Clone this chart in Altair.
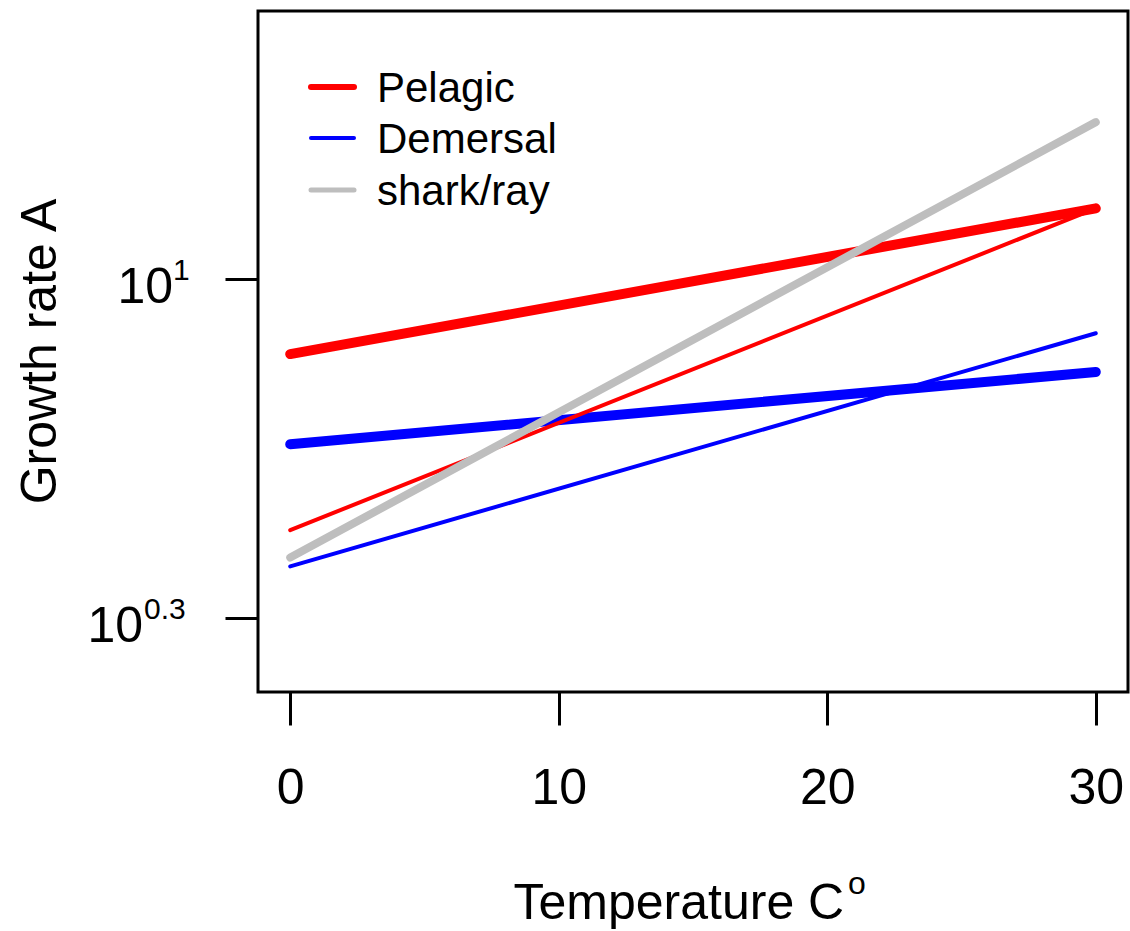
import altair as alt
import pandas as pd

# ---- data ----
line_ids = ["pel_thick", "dem_thick", "pel_thin", "dem_thin", "shark"]
line_group = ["Pelagic", "Demersal", "Pelagic", "Demersal", "shark/ray"]
temp_start = [0, 0, 0, 0, 0]
temp_end = [30, 30, 30, 30, 30]
growth_start = [7.00, 4.56, 3.03, 2.55, 2.66]
growth_end = [14.0, 6.43, 14.0, 7.73, 21.1]

x_ticks = [0, 10, 20, 30]
y_tick_values = [10.0, 10 ** 0.3]
y_tick_exps = ["1", "0.3"]

legend_labels = ["Pelagic", "Demersal", "shark/ray"]

# ---- styles ----
line_colors = {"pel_thick": "#FF0000", "dem_thick": "#0000FF", "pel_thin": "#FF0000",
               "dem_thin": "#0000FF", "shark": "#BEBEBE"}
line_widths = {"pel_thick": 10, "dem_thick": 10, "pel_thin": 4, "dem_thin": 4, "shark": 8}
legend_colors = ["#FF0000", "#0000FF", "#BEBEBE"]
legend_widths = [6, 4, 5]
legend_line_y = [76, 127, 179]
legend_text_y = [91, 142, 194]
ylab_base_x = {"1": -85, "0.3": -115}
ylab_exp_x = {"1": -85, "0.3": -114}

FONT = "Liberation Sans"

rows = []
for i, lid in enumerate(line_ids):
    rows.append({"id": lid, "group": line_group[i], "temp": temp_start[i], "growth": growth_start[i]})
    rows.append({"id": lid, "group": line_group[i], "temp": temp_end[i], "growth": growth_end[i]})
df = pd.DataFrame(rows)

xscale = alt.Scale(domain=[-1.2, 31.2], nice=False, zero=False)
yscale = alt.Scale(type="log", domain=[1.403, 35.8], nice=False)

xaxis = alt.Axis(values=x_ticks, title="Temperature C", domain=False, grid=False,
                 tickSize=33, tickWidth=3, tickColor="black",
                 labelFontSize=50, labelFont=FONT, labelColor="black", labelPadding=38,
                 labelBaseline="top", labelFlush=False,
                 titleFontSize=50, titleFont=FONT, titleFontWeight="normal", titleColor="black",
                 titleX=255, titleY=226, titleAlign="left", titleBaseline="alphabetic",
                 format="d")
yaxis = alt.Axis(values=y_tick_values, labels=False, title="Growth rate A", domain=False, grid=False,
                 tickSize=33, tickWidth=3, tickColor="black",
                 titleFontSize=50, titleFont=FONT, titleFontWeight="normal", titleColor="black",
                 titleX=-203, titleY=340, titleAngle=-90, titleAlign="center",
                 titleBaseline="alphabetic")

base = alt.Chart(df)
enc = dict(x=alt.X("temp:Q", scale=xscale, axis=xaxis),
           y=alt.Y("growth:Q", scale=yscale, axis=yaxis))

layers = []
for lid in line_ids:
    layers.append(
        base.transform_filter(alt.datum.id == lid)
        .mark_line(color=line_colors[lid], strokeWidth=line_widths[lid], strokeCap="round", clip=True)
        .encode(**enc)
    )

# y tick labels 10^1 and 10^0.3
ylab_df = pd.DataFrame({"growth": y_tick_values, "exp": y_tick_exps, "temp": [0, 0]})
for e in y_tick_exps:
    sub = alt.Chart(ylab_df).transform_filter(alt.datum.exp == e)
    layers.append(
        sub.mark_text(text="10", align="right", baseline="alphabetic", dy=24,
                      fontSize=50, font=FONT, color="black")
        .encode(x=alt.value(ylab_base_x[e]),
                y=alt.Y("growth:Q", scale=yscale, axis=yaxis))
    )
    layers.append(
        sub.mark_text(align="left", baseline="alphabetic", dy=1,
                      fontSize=30, font=FONT, color="black")
        .encode(x=alt.value(ylab_exp_x[e]),
                y=alt.Y("growth:Q", scale=yscale, axis=yaxis),
                text="exp:N")
    )

# superscript o of the x title
one = pd.DataFrame({"k": [0]})
layers.append(
    alt.Chart(one).mark_text(text="o", align="left", baseline="alphabetic",
                             fontSize=32, font=FONT, color="black")
    .encode(x=alt.value(590), y=alt.value(883))
)

# legend
for i, lab in enumerate(legend_labels):
    ld = pd.DataFrame({"label": [lab]})
    layers.append(
        alt.Chart(ld).mark_rule(color=legend_colors[i], strokeWidth=legend_widths[i], strokeCap="round")
        .encode(x=alt.value(53), x2=alt.value(96), y=alt.value(legend_line_y[i]))
    )
    layers.append(
        alt.Chart(ld).mark_text(align="left", baseline="alphabetic", fontSize=42, font=FONT, color="black")
        .encode(x=alt.value(119), y=alt.value(legend_text_y[i]), text="label:N")
    )

chart = alt.layer(*layers).properties(
    width=870, height=681,
    autosize="none",
    padding={"left": 258, "top": 11, "right": 2, "bottom": 239},
    background="white",
).configure(font=FONT).configure_view(stroke="black", strokeWidth=3)

chart.save("out.html", embed_options={"renderer": "svg", "actions": False})
